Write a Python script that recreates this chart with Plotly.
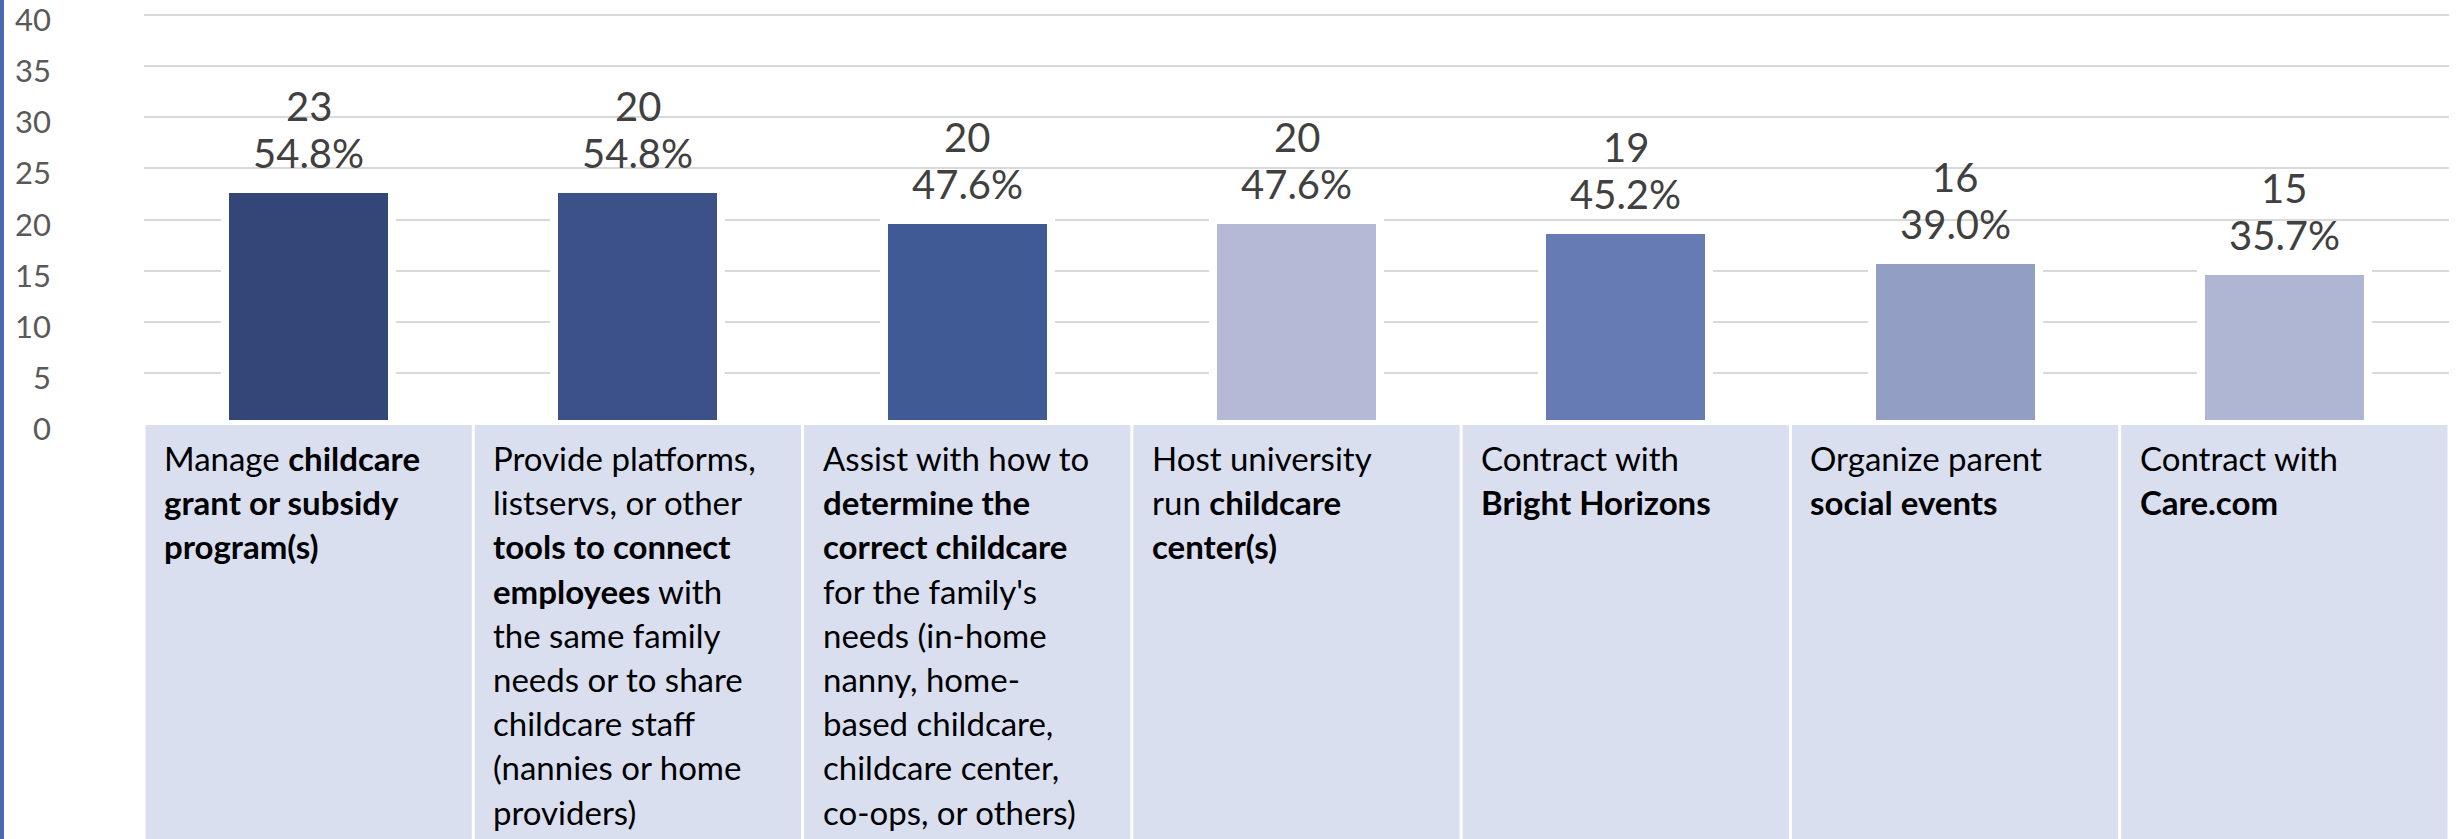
import plotly.graph_objects as go

# ---- data ----
categories = [
    "Manage childcare grant or subsidy program(s)",
    "Provide platforms, listservs, or other tools to connect employees",
    "Assist with how to determine the correct childcare",
    "Host university run childcare center(s)",
    "Contract with Bright Horizons",
    "Organize parent social events",
    "Contract with Care.com",
]
bar_heights = [23, 23, 20, 20, 19, 16, 15]
count_labels = ["23", "20", "20", "20", "19", "16", "15"]
pct_labels = ["54.8%", "54.8%", "47.6%", "47.6%", "45.2%", "39.0%", "35.7%"]
cell_lines = [
    ["Manage <b>childcare</b>", "<b>grant or subsidy</b>", "<b>program(s)</b>"],
    ["Provide platforms,", "listservs, or other", "<b>tools to connect</b>",
     "<b>employees</b> with", "the same family", "needs or to share",
     "childcare staff", "(nannies or home", "providers)"],
    ["Assist with how to", "<b>determine the</b>", "<b>correct childcare</b>",
     "for the family's", "needs (in-home", "nanny, home-",
     "based childcare,", "childcare center,", "co-ops, or others)"],
    ["Host university", "run <b>childcare</b>", "<b>center(s)</b>"],
    ["Contract with", "<b>Bright Horizons</b>"],
    ["Organize parent", "<b>social events</b>"],
    ["Contract with", "<b>Care.com</b>"],
]
bar_colors = ["#344677", "#3b5187", "#405a96", "#b4bad6", "#667bb4", "#929ec4", "#aeb6d3"]
y_ticks = [0, 5, 10, 15, 20, 25, 30, 35, 40]
y_tick_labels = ["0", "5", "10", "15", "20", "25", "30", "35", "40"]

W, H = 2458, 839
ML, MR, MT, MB = 144, 9, 0, 415
plot_w = W - ML - MR
plot_h = H - MT - MB
ymax = 41.47

x = list(range(len(categories)))

fig = go.Figure()
fig.add_trace(go.Bar(
    x=x, y=bar_heights,
    marker=dict(color=bar_colors, line=dict(color="white", width=8)),
    width=0.507,
    hoverinfo="skip",
))

annotations = []
for i, (h, c, p) in enumerate(zip(bar_heights, count_labels, pct_labels)):
    annotations.append(dict(x=i, y=h, xref="x", yref="y", text=p, showarrow=False,
                            yanchor="middle", yshift=36,
                            font=dict(family="Lato", size=40, color="#404040")))
    annotations.append(dict(x=i, y=h, xref="x", yref="y", text=c, showarrow=False,
                            yanchor="middle", yshift=83,
                            font=dict(family="Lato", size=40, color="#404040")))

# y tick labels (drawn at axis values, nudged slightly below their gridlines)
for v, lab in zip(y_ticks, y_tick_labels):
    annotations.append(dict(x=0, y=v, xref="paper", yref="y", text=lab, showarrow=False,
                            xanchor="right", yanchor="middle", xshift=-91, yshift=-4,
                            font=dict(family="Lato", size=31, color="#595959")))

shapes = []
cell_top_px = 425
cell_w = plot_w / 7
for i, lines in enumerate(cell_lines):
    shapes.append(dict(type="rect", xref="x", yref="paper",
                       x0=i - 0.5 + 1.5 / cell_w, x1=i + 0.5 - 1.5 / cell_w,
                       y0=-(H - plot_h) / plot_h - 0.05,
                       y1=-(cell_top_px - plot_h - MT) / plot_h,
                       fillcolor="#dadff0", line=dict(width=0), layer="above"))
    for k, line in enumerate(lines):
        annotations.append(dict(x=i - 0.5, y=0, xref="x", yref="paper", text=line,
                                showarrow=False, xanchor="left", yanchor="middle",
                                xshift=18, yshift=-(458 - (MT + plot_h)) - 44.2 * k,
                                font=dict(family="Lato", size=33, color="#000000")))

# left blue edge line
shapes.append(dict(type="rect", xref="paper", yref="paper",
                   x0=(0 - ML) / plot_w, x1=(4 - ML) / plot_w,
                   y0=-MB / plot_h, y1=1.0,
                   fillcolor="#4a69b0", line=dict(width=0), layer="above"))

fig.update_layout(
    width=W, height=H,
    margin=dict(l=ML, r=MR, t=MT, b=MB, pad=0, autoexpand=False),
    paper_bgcolor="white", plot_bgcolor="white",
    showlegend=False,
    bargap=0,
    xaxis=dict(range=[-0.5, 6.5], showticklabels=False, showgrid=False,
               zeroline=False, showline=False, ticks="", automargin=False),
    yaxis=dict(range=[0, ymax], tickvals=y_ticks, showgrid=True,
               gridcolor="#d9d9d9", gridwidth=2, zeroline=False, showline=False,
               ticks="", showticklabels=False, automargin=False),
    annotations=annotations,
    shapes=shapes,
)

fig.write_html("out.html",
               config={"displayModeBar": False},
               post_script="document.body.style.margin='0px';document.body.style.overflow='hidden';")
